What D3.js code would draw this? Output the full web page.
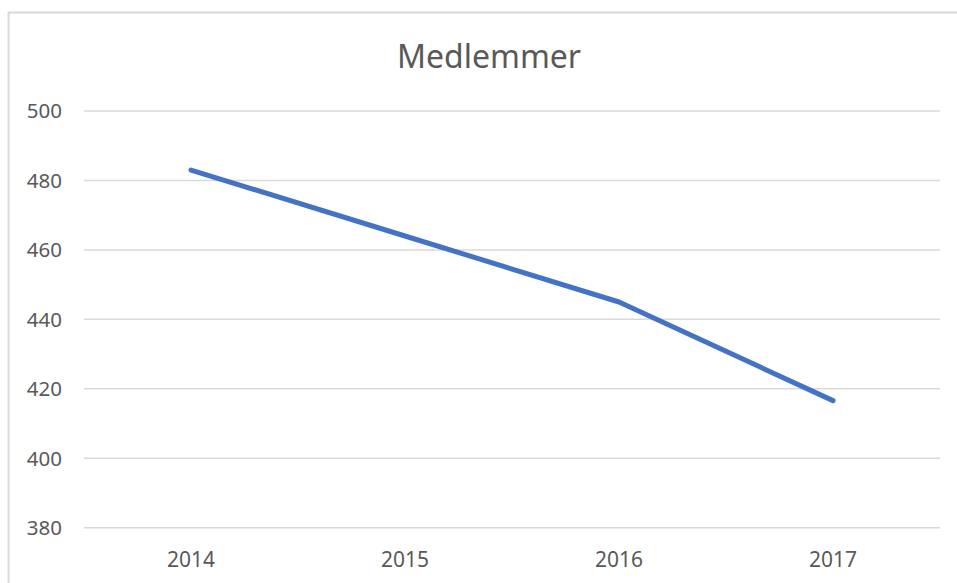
<html>
<head>
<script src="https://d3js.org/d3.v7.min.js"></script>
<style>
  body { margin: 0; background: #fff; }
  text { font-family: "Noto Sans", sans-serif; fill: #595959; }
</style>
</head>
<body>
<div id="chart"></div>
<script>
// data
var years = ["2014", "2015", "2016", "2017"];
var members = [483, 464, 445, 416.6];
var yTicks = [380, 400, 420, 440, 460, 480, 500];

var W = 957, H = 583;
var plot = {left: 84, right: 940, top: 111, bottom: 527.7};

var svg = d3.select("#chart").append("svg")
    .attr("width", W)
    .attr("height", H);

// chart area border (right and bottom fall outside the picture)
svg.append("rect")
    .attr("x", 8.5).attr("y", 12.5)
    .attr("width", W + 20).attr("height", H + 20)
    .attr("fill", "white")
    .attr("stroke", "#d9d9d9")
    .attr("stroke-width", 2);

var x = d3.scaleBand().domain(years).range([plot.left, plot.right]);
var y = d3.scaleLinear().domain([380, 500]).range([plot.bottom, plot.top]);

// gridlines
svg.append("g").selectAll("line")
    .data(yTicks)
    .enter().append("line")
    .attr("x1", plot.left).attr("x2", plot.right)
    .attr("y1", function (d) { return y(d); })
    .attr("y2", function (d) { return y(d); })
    .attr("stroke", "#d9d9d9")
    .attr("stroke-width", 1.5);

// y labels
svg.append("g").selectAll("text")
    .data(yTicks)
    .enter().append("text")
    .attr("x", 62)
    .attr("y", function (d) { return y(d); })
    .attr("dy", "0.36em")
    .attr("text-anchor", "end")
    .style("font-size", "20.5px")
    .text(function (d) { return d; });

// x labels
svg.append("g").selectAll("text")
    .data(years)
    .enter().append("text")
    .attr("x", function (d) { return x(d) + x.bandwidth() / 2; })
    .attr("y", 566.5)
    .attr("text-anchor", "middle")
    .style("font-size", "21px")
    .text(function (d) { return d; });

// line
var line = d3.line()
    .x(function (d, i) { return x(years[i]) + x.bandwidth() / 2; })
    .y(function (d) { return y(d); });

svg.append("path")
    .datum(members)
    .attr("fill", "none")
    .attr("stroke", "#4472c4")
    .attr("stroke-width", 5)
    .attr("stroke-linejoin", "round")
    .attr("stroke-linecap", "round")
    .attr("d", line);

// title
svg.append("text")
    .attr("x", 489)
    .attr("y", 68)
    .attr("text-anchor", "middle")
    .style("font-size", "32px")
    .text("Medlemmer");
</script>
</body>
</html>
